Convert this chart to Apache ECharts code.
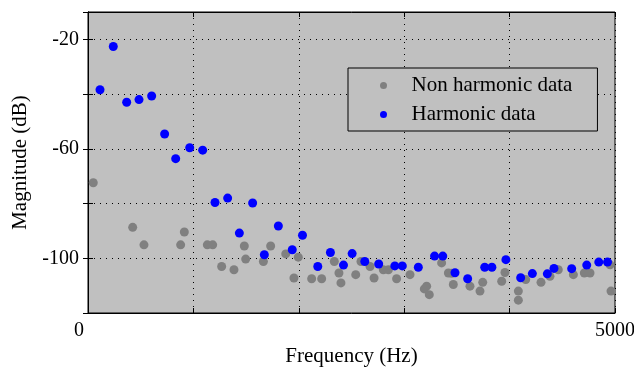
<!DOCTYPE html>
<html>
<head>
<meta charset="utf-8">
<script src="https://cdn.jsdelivr.net/npm/echarts@6/dist/echarts.min.js"></script>
<style>
html,body{margin:0;padding:0;background:#fff;}
#c{width:634px;height:368px;}
</style>
</head>
<body>
<div id="c"></div>
<script>
var seriesNames = ['Non harmonic data', 'Harmonic data'];
var xLabelsShown = [0, 5000];
var yLabelsShown = [-20, -60, -100];

var nonHarmonic = [
  [50,-72.4],[424,-88.7],[531,-95.1],[879,-95.1],[914,-90.4],[1132,-95.1],[1183,-95.1],
  [1268,-103],[1385,-104.2],[1483,-95.5],[1496,-100.3],[1664,-101.2],[1733,-95.5],
  [1876,-98.4],[1954,-107.2],[1995,-99.6],[2122,-107.5],[2217,-107.5],[2337,-101.2],
  [2381,-105.4],[2400,-109],[2540,-106],[2590,-101.2],[2676,-103],[2714,-107.2],
  [2802,-104.2],[2850,-104.2],[2928,-107.5],[3055,-106],[3191,-111.2],[3213,-110.2],
  [3238,-113.3],[3355,-101.7],[3419,-105.4],[3450,-105.5],[3466,-109.6],[3624,-110.2],
  [3719,-112],[3745,-108.8],[3925,-108.4],[3956,-105.2],[4083,-112],[4083,-115.3],
  [4153,-107.8],[4298,-108.8],[4383,-106.6],[4462,-104.2],[4605,-106],[4709,-105.4],
  [4763,-105.4],[4953,-102.4],[4962,-112]
];
var harmonic = [
  [114,-38.4],[240,-22.6],[367,-43],[484,-42],[604,-40.7],[727,-54.6],[832,-63.6],
  [965,-59.6],[1088,-60.5],[1205,-79.6],[1325,-78],[1436,-90.8],[1562,-79.8],
  [1673,-98.7],[1806,-88.2],[1938,-96.9],[2035,-91.6],[2180,-103],[2300,-97.9],
  [2424,-102.5],[2506,-98.3],[2626,-101.2],[2758,-102.1],[2911,-102.8],[2982,-102.8],
  [3134,-103.3],[3288,-99.2],[3366,-99.2],[3482,-105.3],[3602,-107.5],[3764,-103.3],
  [3832,-103.3],[3965,-100.5],[4105,-107.1],[4216,-105.6],[4358,-105.7],[4421,-103.7],
  [4589,-103.8],[4732,-102.5],[4846,-101.4],[4929,-101.4]
];

var FONT = 'Liberation Serif';
var chart = echarts.init(document.getElementById('c'), null, {renderer:'canvas'});
var dotted = {color:'#000', width:1, type:[1,5]};
chart.setOption({
  animation:false,
  backgroundColor:'#ffffff',
  grid:{left:88, top:12, right:19, bottom:55, containLabel:false, outerBoundsMode:'none',
        show:true, backgroundColor:'#c0c0c0', borderColor:'#000', borderWidth:1},
  legend:{
    orient:'vertical', left:348, top:68,
    backgroundColor:'#c0c0c0', borderColor:'#000', borderWidth:1, borderRadius:0,
    padding:[7,25,6,32], itemGap:8, itemWidth:10, itemHeight:7,
    icon:'circle',
    textStyle:{fontFamily:FONT, fontSize:21, color:'#000', lineHeight:20, padding:[0,0,0,18]},
    data:seriesNames
  },
  xAxis:[{
    type:'value', min:0, max:5000, interval:1000,
    name:'Frequency (Hz)', nameLocation:'middle', nameGap:33,
    nameTextStyle:{fontFamily:FONT, fontSize:21, color:'#000'},
    axisLine:{show:true, lineStyle:{color:'#000'}},
    axisTick:{show:true, inside:true, length:5, lineStyle:{color:'#000'}},
    axisLabel:{margin:8, fontFamily:FONT, fontSize:20, color:'#000',
      formatter:function(v){ if(v===xLabelsShown[0]) return '{z|'+v+'}'; return xLabelsShown.indexOf(v)>=0? String(v):''; },
      rich:{z:{fontFamily:FONT, fontSize:20, color:'#000', padding:[0,18,0,0]}}
    },
    splitLine:{show:true, lineStyle:dotted}
  },{
    type:'value', min:0, max:5000, interval:1000, position:'top',
    axisLine:{show:true, lineStyle:{color:'#000'}},
    axisTick:{show:true, inside:true, length:5, lineStyle:{color:'#000'}},
    axisLabel:{show:false}, splitLine:{show:false}
  }],
  yAxis:[{
    type:'value', min:-120, max:-10, interval:20,
    name:'Magnitude (dB)', nameLocation:'middle', nameGap:51,
    nameTextStyle:{fontFamily:FONT, fontSize:21, color:'#000'},
    axisLine:{show:true, lineStyle:{color:'#000'}},
    axisTick:{show:true, inside:true, length:5, lineStyle:{color:'#000'}},
    axisLabel:{margin:9, fontFamily:FONT, fontSize:20, color:'#000',
      formatter:function(v){ return yLabelsShown.indexOf(v)>=0? String(v):''; }},
    splitLine:{show:true, lineStyle:dotted}
  },{
    type:'value', min:-120, max:-10, interval:20, position:'right',
    axisLine:{show:true, lineStyle:{color:'#000'}},
    axisTick:{show:true, inside:true, length:5, lineStyle:{color:'#000'}},
    axisLabel:{show:false}, splitLine:{show:false}
  }],
  series:[
    {name:seriesNames[0], type:'scatter', data:nonHarmonic, symbol:'circle', symbolSize:9,
     itemStyle:{color:'#808080', opacity:1}},
    {name:seriesNames[1], type:'scatter', data:harmonic, symbol:'circle', symbolSize:9,
     itemStyle:{color:'#0000ff', opacity:1}}
  ]
});
</script>
</body>
</html>
